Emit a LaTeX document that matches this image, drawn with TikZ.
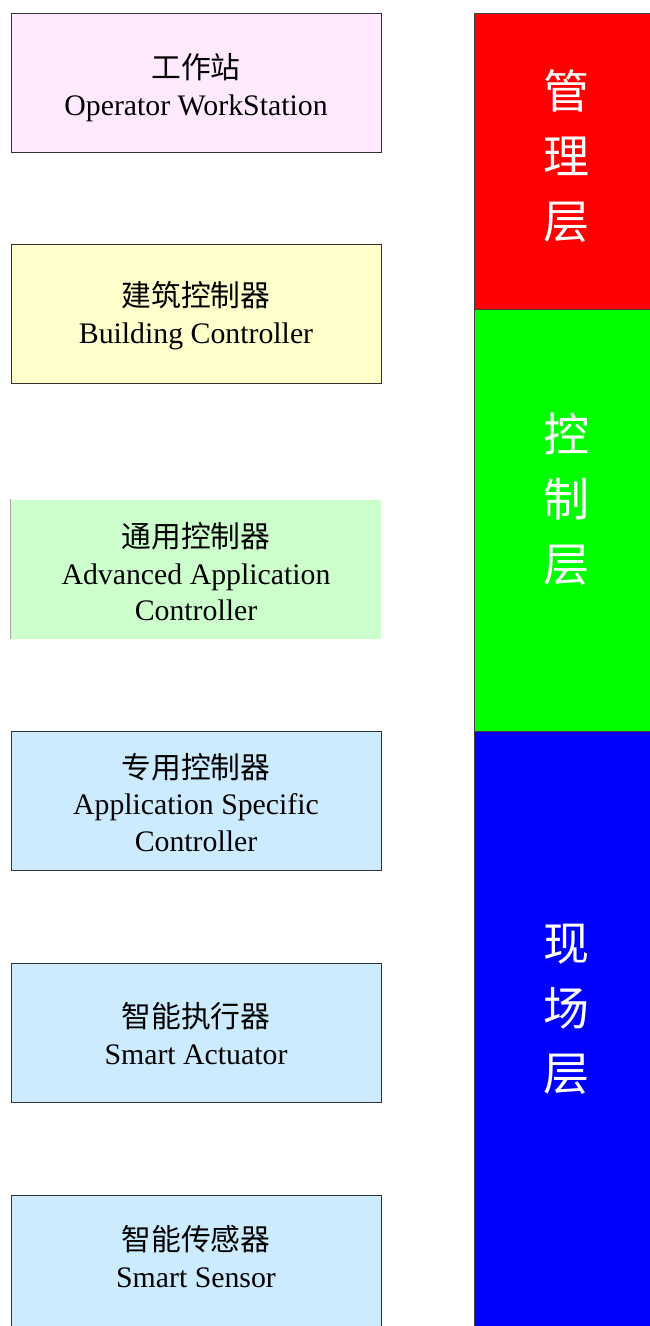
\documentclass[tikz,border=0pt]{standalone}
\usepackage{fontspec}
\setmainfont{Liberation Serif}
\newfontfamily\cjk{Noto Sans CJK SC}
\definecolor{pinkfill}{HTML}{FFE9FF}
\definecolor{yellowfill}{HTML}{FFFFCC}
\definecolor{greenfill}{HTML}{CCFFCC}
\definecolor{bluefill}{HTML}{CCEBFF}
\definecolor{layerred}{HTML}{FF0000}
\definecolor{layergreen}{HTML}{00FF00}
\definecolor{layerblue}{HTML}{0000FF}
\begin{document}
\begin{tikzpicture}[x=1pt,y=-1pt,
  devbox/.style={rectangle, draw=black!80, line width=0.8pt, minimum width=370pt, minimum height=139pt, inner sep=0pt},
  devtext/.style={inner sep=0pt, align=center, font=\fontsize{29.8}{36.5}\selectfont},
  layerbar/.style={draw=black!75, line width=0.8pt},
  layertext/.style={text=white, align=center, font=\cjk\fontsize{46}{65}\selectfont}]
\useasboundingbox (0,0) rectangle (649,1326);
% layer bars
\fill[layerred] (474,13) rectangle (652,309);
\fill[layergreen] (474,309) rectangle (652,731);
\fill[layerblue] (474,731) rectangle (652,1330);
\draw[layerbar] (652,13) -- (474,13) -- (474,1330);
\draw[layerbar] (474,309) -- (652,309);
\draw[layerbar] (474,731) -- (652,731);
\node[layertext] (mgmt) at (566,156) {管\\理\\层};
\node[layertext] (ctrl) at (566,499) {控\\制\\层};
\node[layertext] (field) at (566,1009) {现\\场\\层};
% device boxes
\node[devbox, fill=pinkfill] (ows) at (196,82.5) {};
\node[devtext] (owst) at ([yshift=-5pt]ows.center) {{\cjk 工作站}\\Operator WorkStation};
\node[devbox, fill=yellowfill] (bc) at (196,313.5) {};
\node[devtext] (bct) at ([yshift=-2pt]bc.center) {{\cjk 建筑控制器}\\Building Controller};
\node[devbox, fill=greenfill, draw=none] (aac) at (196,569) {};
\draw[gray!70, line width=0.8pt] (aac.north west) -- (aac.south west);
\node[devtext] (aact) at ([yshift=-3pt]aac.center) {{\cjk 通用控制器}\\Advanced Application\\Controller};
\node[devbox, fill=bluefill] (asc) at (196,800.5) {};
\node[devtext] (asct) at ([yshift=-2pt]asc.center) {{\cjk 专用控制器}\\Application Specific\\Controller};
\node[devbox, fill=bluefill] (sa) at (196,1032.5) {};
\node[devtext] (sat) at ([yshift=-1pt]sa.center) {{\cjk 智能执行器}\\Smart Actuator};
\node[devbox, fill=bluefill] (ss) at (196,1264.5) {};
\node[devtext] (sst) at ([yshift=8pt]ss.center) {{\cjk 智能传感器}\\Smart Sensor};
\end{tikzpicture}
\end{document}
